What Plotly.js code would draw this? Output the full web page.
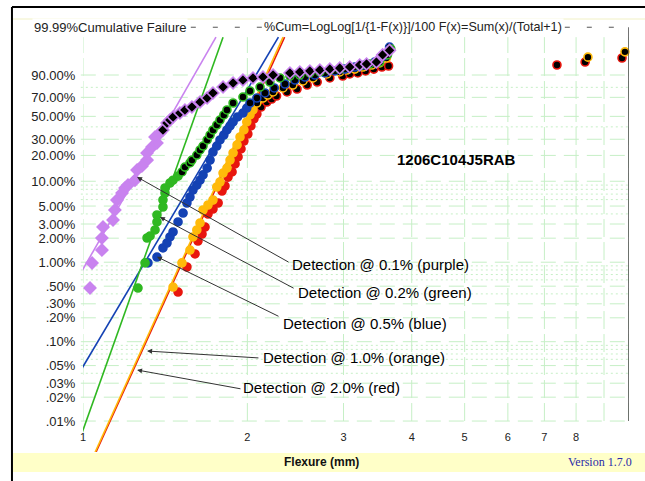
<!DOCTYPE html>
<html><head><meta charset="utf-8">
<script src="https://cdn.plot.ly/plotly-3.0.1.min.js"></script>
<style>html,body{margin:0;padding:0;background:#fff}#chart{width:645px;height:481px}</style>
</head><body><div id="chart"></div>
<script>
// ---------- axis ticks ----------
const yTickPct  = [99.99, 90, 70, 50, 30, 20, 10, 5, 3, 2, 1, 0.5, 0.3, 0.2, 0.1, 0.05, 0.03, 0.02, 0.01];
const yTickText = ['', '90.00%', '70.00%', '50.00%', '30.00%', '20.00%', '10.00%', '5.00%', '3.00%', '2.00%', '1.00%',
                   '.50%', '.30%', '.20%', '.10%', '.05%', '.03%', '.02%', '.01%'];
const yMinorPct = [80, 40, 9, 8, 7, 6, 4, 0.9, 0.8, 0.7, 0.6, 0.4, 0.09, 0.08, 0.07, 0.06, 0.04];
const xTickVals = [1, 2, 3, 4, 5, 6, 7, 8, 9, 10];
const xTickText = ['1', '2', '3', '4', '5', '6', '7', '8', '', ''];

// ---------- data: flexure (mm) and cumulative failure (%) ----------
const purpleX = [1.030,1.039,1.083,1.083,1.088,1.135,1.144,1.154,1.179,1.194,1.209,1.245,1.256,1.282,1.310,1.310,1.338,1.366,1.355,1.384,
                 1.401,1.425,1.443,1.462,1.505,1.537,1.583,1.638,1.688,1.730,1.805,1.883,1.963,2.048,2.136,2.229,2.393,2.495,2.603,2.715,
                 2.832,2.953,3.080,3.212,3.306,3.446,3.538,3.643];
const purpleF = [0.474,0.98,1.42,2.01,2.75,3.36,4.47,5.93,7.22,8.30,9.0,10.3,13.6,15.1,17.7,21.3,24.8,27.4,31.7,34.8,
                 37.3,43.5,46.4,49.4,53.4,56.6,59.7,65.0,69.3,74.5,80.3,83.9,86.3,87.9,88.6,90.0,91.3,91.9,92.5,93.0,
                 93.5,94.0,94.5,95.4,95.8,96.5,98.4,99.1];
const greenX  = [1.261,1.299,1.310,1.327,1.355,1.366,1.366,1.401,1.401,1.413,1.413,1.443,1.462,1.493,1.518,1.537,1.570,1.583,1.616,1.638,
                 1.659,1.688,1.709,1.730,1.758,1.782,1.811,1.835,1.883,1.963,2.022,2.110,2.199,2.295,2.393,2.495,2.603,2.715,2.832,2.953,
                 3.080,3.212,3.350,3.494,3.612,3.662];
const greenF  = [0.474,0.98,2.01,2.13,2.53,3.18,3.88,4.87,5.93,7.22,8.30,9.53,10.3,11.5,12.9,14.7,16.4,17.7,20.2,23.0,
                 25.4,29.5,33.2,37.3,41.7,46.4,51.4,56.6,64.0,70.3,76.5,80.3,84.7,87.9,89.3,90.0,91.3,91.9,93.0,93.5,
                 94.5,94.97,95.8,96.5,98.4,99.26];
const blueX   = [1.315,1.366,1.401,1.425,1.443,1.462,1.493,1.525,1.550,1.570,1.590,1.616,1.638,1.659,1.688,1.709,1.730,1.758,1.782,1.811,
                 1.835,1.859,1.883,1.919,1.963,1.995,2.022,2.082,2.154,2.240,2.344,2.444,2.549,2.659,2.773,2.892,3.016,3.146,3.281,3.421,
                 3.566,3.643];
const blueF   = [0.98,1.16,1.51,1.74,2.07,2.39,3.18,4.10,5.45,6.45,7.85,9.0,10.3,11.9,14.3,17.7,21.8,25.4,29.5,33.2,
                 37.3,40.8,44.5,49.4,53.4,58.6,64.0,69.3,74.5,79.4,83.0,86.3,88.6,90.0,91.3,92.5,93.5,94.5,95.4,96.5,
                 98.2,99.44];
const orangeX = [1.462,1.518,1.570,1.590,1.616,1.638,1.659,1.694,1.730,1.758,1.782,1.805,1.835,1.859,1.883,1.915,1.939,1.971,1.995,2.022,
                 2.048,2.082,2.136,2.180,2.229,2.324,2.423,2.529,2.638,2.799,2.953,3.043,3.146,3.256,3.380,3.494,3.596,8.41,9.83];
const orangeF = [0.488,0.98,1.42,2.07,2.53,3.09,4.47,5.15,5.93,8.53,9.80,12.5,14.3,17.7,21.3,26.1,31.7,37.3,44.5,51.4,
                 56.6,64.0,69.3,72.4,75.5,79.4,82.1,85.6,87.9,90.7,91.9,93.0,93.5,94.5,95.4,96.2,97.7,97.9,98.9];
const redX    = [1.493,1.550,1.604,1.624,1.652,1.673,1.694,1.730,1.768,1.797,1.820,1.843,1.875,1.899,1.923,1.947,1.971,2.004,2.030,2.056,
                 2.082,2.119,2.171,2.216,2.262,2.364,2.466,2.574,2.685,2.832,2.990,3.080,3.186,3.293,3.409,3.527,3.628,7.38,8.31,9.71];
const redF    = [0.422,0.871,1.27,1.84,2.25,2.75,3.99,4.60,5.45,7.63,8.77,11.2,12.9,16.0,19.2,23.6,28.7,34.0,40.8,47.4,
                 52.4,59.7,65.0,68.2,71.4,75.5,78.4,82.1,84.7,87.9,89.3,90.7,91.3,92.5,93.5,94.5,94.97,95.4,96.5,97.7];

// fitted lines (end points)
const purpleLineX = [0.979, 1.752], purpleLineF = [0.635, 99.9];
const greenLineX  = [0.979, 1.805], greenLineF  = [0.0051, 99.9];
const blueLineX   = [0.979, 2.280], blueLineF   = [0.038, 99.9];
const orangeLineX = [0.960, 2.325], orangeLineF = [0.001, 99.9];
const redLineX    = [0.963, 2.340], redLineF    = [0.001, 99.9];

// detection call-outs: arrow head, arrow tail, label (left edge / middle)
const calloutText  = ['Detection @ 0.1% (purple)', 'Detection @ 0.2% (green)', 'Detection @ 0.5% (blue)',
                      'Detection @ 1.0% (orange)', 'Detection @ 2.0% (red)'];
const calloutHeadX = [1.256, 1.383, 1.366, 1.310, 1.256];
const calloutHeadF = [11.24, 3.66, 1.17, 0.0763, 0.0440];
const calloutTailX = [2.394, 2.446, 2.295, 2.109, 1.955];
const calloutTailF = [0.98, 0.461, 0.2046, 0.0623, 0.0253];
const calloutLabX  = [2.394, 2.454, 2.305, 2.118, 1.947];
const calloutLabF  = [0.924, 0.411, 0.172, 0.064, 0.0261];

// ---------- helpers ----------
const W = p => Math.log(-Math.log(1 - p / 100));   // Weibull probability scale
const FONT = 'Liberation Sans, Arial, sans-serif';
const GRID = '#c6efc6';

const colors = {purple:'#c983ef', green:'#2fb821', blue:'#1442b4', orange:'#ffba0a', red:'#e8160e'};

function lineTrace(xs, fs, color){
  return {type:'scatter', mode:'lines', x:xs, y:fs.map(W), line:{color, width:1.6}, hoverinfo:'skip', showlegend:false};
}
function markTrace(xs, fs, color, symbol, size, blackFrom){
  return {type:'scatter', mode:'markers', x:xs, y:fs.map(W), showlegend:false, hoverinfo:'skip', cliponaxis:false,
    marker:{symbol, size, color: xs.map((_, i) => i >= blackFrom ? '#000000' : color),
            line:{color, width: 1.6}}};
}

const data = [
  lineTrace(redLineX, redLineF, colors.red),
  lineTrace(orangeLineX, orangeLineF, colors.orange),
  lineTrace(blueLineX, blueLineF, colors.blue),
  lineTrace(greenLineX, greenLineF, colors.green),
  lineTrace(purpleLineX, purpleLineF, colors.purple),
  markTrace(redX, redF, colors.red, 'circle', 8, 21),
  markTrace(orangeX, orangeF, colors.orange, 'circle', 8, 21),
  markTrace(blueX, blueF, colors.blue, 'circle', 8, 26),
  markTrace(greenX, greenF, colors.green, 'circle', 8, 14),
  markTrace(purpleX, purpleF, colors.purple, 'diamond', 9, 20)
];

// ---------- grid & frame ----------
const shapes = [];
yTickPct.forEach((p, i) => shapes.push({type:'line', layer:'below', xref:'paper', x0:-0.004, x1:1, yref:'y', y0:W(p), y1:W(p),
  line: i === 0 ? {color:'#555', width:1, dash:'5px,17px'} : {color:GRID, width:1, dash:'15px,8px'}}));
yMinorPct.forEach(p => shapes.push({type:'line', layer:'below', xref:'paper', x0:-0.004, x1:1, yref:'y', y0:W(p), y1:W(p),
  line:{color:GRID, width:1, dash:'2px,3px'}}));
xTickVals.forEach(v => shapes.push({type:'line', layer:'below', xref:'x', x0:v, x1:v, yref:'y', y0:W(0.01), y1:W(99.9),
  line:{color:GRID, width:1, dash:'18px,5px'}}));
// right border of the plot
shapes.push({type:'line', xref:'x', x0:xTickVals[xTickVals.length-1], x1:xTickVals[xTickVals.length-1],
  yref:'y', y0:W(0.01), y1:W(99.99), line:{color:'#444', width:1.5}});
// bottom yellow strip
shapes.push({type:'rect', layer:'below', xref:'paper', x0:-0.1282, x1:1.04, yref:'paper', y0:-0.0462, y1:-0.0023,
  fillcolor:'#ffffc8', line:{width:0}});
// faint top strip line
shapes.push({type:'line', layer:'below', xref:'paper', x0:-0.1282, x1:1.04, yref:'paper', y0:1.0, y1:1.0,
  line:{color:'#f6f6d8', width:1.5}});
// outer black frame (left and top)
shapes.push({type:'line', xref:'paper', x0:-0.1301, x1:-0.1301, yref:'paper', y0:-0.07, y1:1.028, line:{color:'#000', width:2}});
shapes.push({type:'line', xref:'paper', x0:-0.1301, x1:1.04, yref:'paper', y0:1.0277, y1:1.0277, line:{color:'#000', width:2}});

// ---------- annotations ----------
const annotations = [];
calloutText.forEach((t, i) => {
  annotations.push({xref:'x', yref:'y', axref:'x', ayref:'y',
    x:Math.log10(calloutHeadX[i]), y:W(calloutHeadF[i]), ax:Math.log10(calloutTailX[i]), ay:W(calloutTailF[i]),
    text:'', showarrow:true, arrowhead:2, arrowsize:1, arrowwidth:1, arrowcolor:'#333'});
  annotations.push({xref:'x', yref:'y', x:Math.log10(calloutLabX[i]), y:W(calloutLabF[i]), xanchor:'left', yanchor:'middle',
    text:t, showarrow:false, font:{family:FONT, size:15, color:'#000'}});
});
annotations.push({xref:'paper', yref:'y', x:-0.0934, y:W(99.99), xanchor:'left', yanchor:'middle', showarrow:false,
  text:'99.99%Cumulative Failure', bgcolor:'#ffffff', borderpad:1, font:{family:FONT, size:13, color:'#222'}});
annotations.push({xref:'paper', yref:'y', x:0.3278, y:W(99.99), xanchor:'left', yanchor:'middle', showarrow:false,
  text:'%Cum=LogLog[1/{1-F(x)}]/100 F(x)=Sum(x)/(Total+1)', bgcolor:'#ffffff', borderpad:1, font:{family:FONT, size:12.6, color:'#222'}});
annotations.push({xref:'paper', yref:'paper', x:0.5714, y:0.6744, xanchor:'left', yanchor:'middle', showarrow:false,
  text:'<b>1206C104J5RAB</b>', font:{family:FONT, size:15, color:'#000'}});
annotations.push({xref:'paper', yref:'paper', x:0.436, y:-0.0231, xanchor:'center', yanchor:'middle', showarrow:false,
  text:'<b>Flexure (mm)</b>', font:{family:FONT, size:12, color:'#111'}});
annotations.push({xref:'paper', yref:'paper', x:1.0088, y:-0.0231, xanchor:'right', yanchor:'middle', showarrow:false,
  text:'Version 1.7.0', font:{family:'Liberation Serif, Times New Roman, serif', size:12, color:'#2a2aa8'}});

const layout = {
  width:645, height:481,
  margin:{l:83, r:16, t:19, b:29, pad:0},
  paper_bgcolor:'#ffffff', plot_bgcolor:'rgba(0,0,0,0)',
  showlegend:false,
  xaxis:{type:'log', range:[0, 1], tickvals:xTickVals, ticktext:xTickText, showgrid:false, zeroline:false, showline:false,
    ticks:'', anchor:'free', position:0.053, tickfont:{family:FONT, size:11, color:'#222'}, fixedrange:true},
  yaxis:{type:'linear', range:[-10.109, 2.4595], tickvals:yTickPct.map(W), ticktext:yTickText, showgrid:false, zeroline:false,
    showline:false, ticks:'outside', ticklen:4, tickcolor:'rgba(0,0,0,0)', tickfont:{family:FONT, size:13, color:'#222'}, fixedrange:true},
  shapes, annotations
};

Plotly.newPlot('chart', data, layout, {staticPlot:true, displayModeBar:false});
</script>
</body></html>
